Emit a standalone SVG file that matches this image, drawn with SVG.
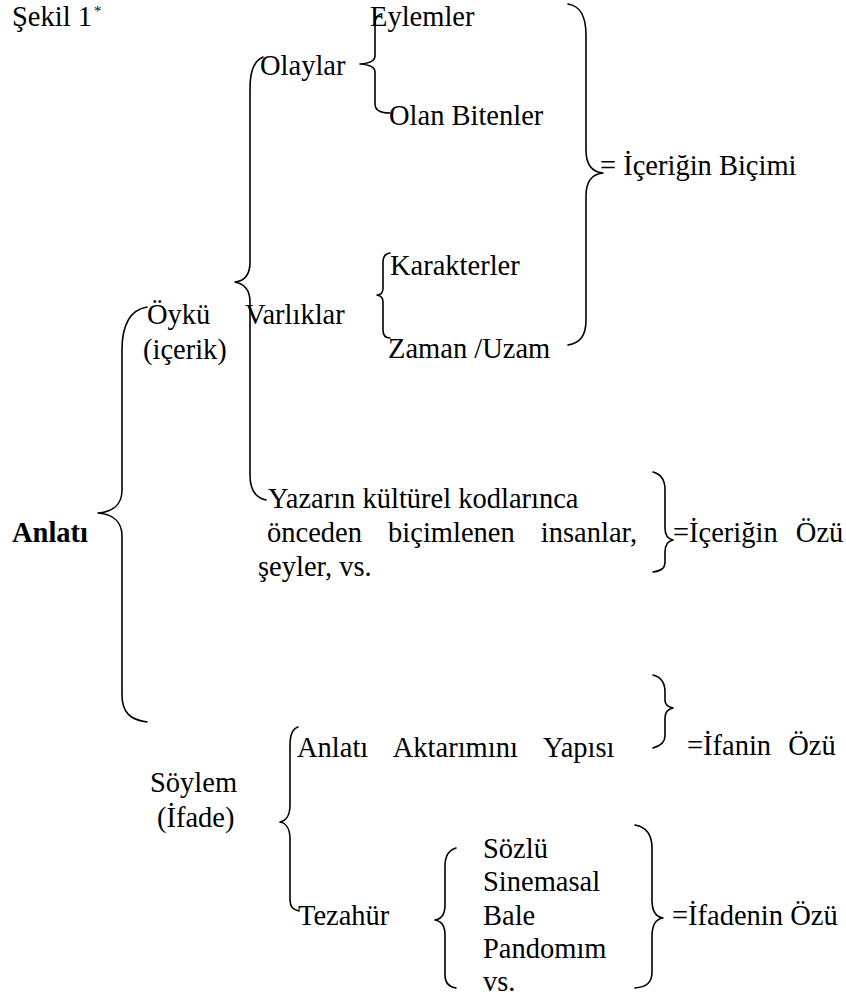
<svg xmlns="http://www.w3.org/2000/svg" width="846" height="998" viewBox="0 0 846 998">
<style>
text{font-family:'Liberation Serif','Times New Roman',serif;font-size:28.5px;fill:#000}
.b{font-weight:bold}
.sup{font-size:15px}
.br{fill:none;stroke:#000;stroke-width:1.6;stroke-linecap:round;stroke-linejoin:round}
</style>
<rect width="846" height="998" fill="#fff"/>
<g id="connectors">
<path class="br" d="M381 14 Q375 16 375 24 L375 56 Q375 63 360 64 Q375 65 375 72 L375 104 Q375 113 390 113"/>
<path class="br" d="M263 57 C252 62 250 75 250 90 L250 262 C250 275 245 281 235 282 C245 284 250 290 250 302 L250 475 C250 490 256 498 266 500"/>
<path class="br" d="M390 253 Q383 254 383 262 L383 288 Q383 295 377 295 Q383 296 383 302 L383 330 Q383 338 390 338"/>
<path class="br" d="M568 4 C580 6 586 15 586 35 L586 150 C586 165 592 172 603 173 C592 174 586 181 586 196 L586 320 C586 336 580 343 568 345"/>
<path class="br" d="M147 307 C130 310 122 325 122 350 L122 490 C122 505 112 512 98 513 C112 514 122 521 122 536 L122 695 C122 712 130 720 147 722"/>
<path class="br" d="M653 472 C661 474 665 480 665 490 L665 528 C665 535 668 539 673 540 C668 541 665 545 665 552 L665 562 C665 569 660 571 653 572"/>
<path class="br" d="M653 675 C661 677 665 683 665 692 L665 700 C665 705 668 707 673 708 C668 709 665 712 665 718 L665 736 C665 743 660 746 653 748"/>
<path class="br" d="M298 727 C292 729 290 735 290 745 L290 805 C290 815 286 821 280 822 C286 823 290 829 290 839 L290 900 C290 907 293 910 299 911"/>
<path class="br" d="M456 848 C449 850 445 856 445 866 L445 905 C445 915 441 919 435 920 C441 921 445 925 445 935 L445 975 C445 983 449 987 456 988"/>
<path class="br" d="M635 825 C646 827 652 835 652 848 L652 900 C652 912 656 917 663 918 C656 919 652 924 652 936 L652 972 C652 983 646 987 635 988"/>
</g>
<g id="title"><text x="12" y="26">Şekil 1</text><text class="sup" x="94" y="16">*</text></g>
<g id="eylemler"><text x="370" y="26">Eylemler</text></g>
<g id="olaylar"><text x="260" y="75">Olaylar</text></g>
<g id="olan-bitenler"><text x="389" y="125">Olan Bitenler</text></g>
<g id="icerigin-bicimi"><text x="600" y="175">= İçeriğin Biçimi</text></g>
<g id="karakterler"><text x="390" y="275">Karakterler</text></g>
<g id="oyku"><text x="147" y="324">Öykü</text><text x="143" y="359">(içerik)</text></g>
<g id="varliklar"><text x="245" y="324">Varlıklar</text></g>
<g id="zaman-uzam"><text x="388" y="358">Zaman /Uzam</text></g>
<g id="yazarin"><text x="268" y="508">Yazarın kültürel kodlarınca</text><text x="267" y="542" word-spacing="19">önceden biçimlenen insanlar,</text><text x="258" y="576">şeyler, vs.</text></g>
<g id="icerigin-ozu"><text x="673" y="542" word-spacing="11">=İçeriğin Özü</text></g>
<g id="anlati"><text class="b" x="12" y="542">Anlatı</text></g>
<g id="anlati-aktarimi"><text x="297" y="757" word-spacing="19">Anlatı Aktarımını Yapısı</text></g>
<g id="ifanin-ozu"><text x="687" y="755" word-spacing="10">=İfanin Özü</text></g>
<g id="soylem"><text x="150" y="792">Söylem</text><text x="157" y="827">(İfade)</text></g>
<g id="tezahur"><text x="298" y="925">Tezahür</text></g>
<g id="turler"><text x="483" y="858">Sözlü</text><text x="483" y="891">Sinemasal</text><text x="483" y="925">Bale</text><text x="483" y="958">Pandomım</text><text x="483" y="991">vs.</text></g>
<g id="ifadenin-ozu"><text x="672" y="925">=İfadenin Özü</text></g>
</svg>
